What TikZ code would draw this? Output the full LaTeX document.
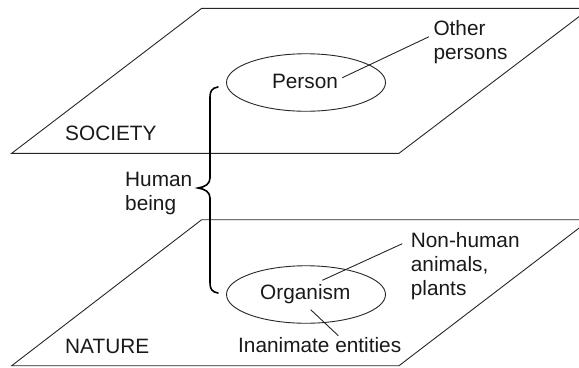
\documentclass[tikz,border=0pt]{standalone}
\usepackage{fontspec}
\setmainfont{Liberation Sans}
\usetikzlibrary{shapes.geometric}
\begin{document}
\begin{tikzpicture}[x=1bp,y=-1bp,
  plane/.style={draw=black!85,line width=0.9bp},
  oval/.style={ellipse,draw=black!85,line width=0.9bp,minimum width=159bp,minimum height=57.5bp,inner sep=0pt},
  lbl/.style={inner sep=0pt,anchor=base west,align=left,font=\fontsize{20.8bp}{24bp}\selectfont,text=black!90},
  conn/.style={draw=black!85,line width=0.9bp},
  bracestyle/.style={draw=black,line width=1.6bp,line cap=round}]
\useasboundingbox (0,0) rectangle (579,367);
\clip (0,0) rectangle (579,367);
% planes
\draw[plane] (11.7,153.3) -- (201.7,8.3) -- (590,8.3) -- (399,153.3) -- cycle;
\draw[plane] (11.7,365.7) -- (201.7,219.7) -- (590,219.7) -- (399,365.7) -- cycle;
% ellipses
\node[oval] (person) at (306,82.5) {};
\node[oval] (organism) at (306,294.5) {};
\node[lbl,anchor=base] (persontext) at (305,88.5) {Person};
\node[lbl,anchor=base] (orgtext) at (305.3,299.7) {Organism};
% labels (base = baseline of last line)
\node[lbl] (society) at (65,140.7) {SOCIETY};
\node[lbl] (nature) at (65,353.7) {NATURE};
\node[lbl] (other) at (433.3,59.3) {Other\\persons};
\node[lbl] (nonhuman) at (410.7,295.5) {Non-human\\animals,\\plants};
\node[lbl] (inanimate) at (238,352.7) {Inanimate entities};
\node[lbl] (human) at (125,210.3) {Human\\being};
% connectors
\coordinate (p1) at (342.3,77.7);
\coordinate (o1) at (429,36.7);
\coordinate (g1) at (322.3,280.3);
\coordinate (n1) at (402.3,243.7);
\coordinate (g2) at (310.7,309.7);
\coordinate (i1) at (338.3,335.7);
\draw[conn] (p1) -- (o1);
\draw[conn] (g1) -- (n1);
\draw[conn] (g2) -- (i1);
% brace
\coordinate (btop) at (218,87);
\coordinate (btip) at (198,188);
\coordinate (bbot) at (218,293);
\draw[bracestyle] (btop) .. controls (212,88) and (210,91) .. (210,97) -- (210,178)
  .. controls (210,184) and (205,187) .. (btip)
  .. controls (205,189) and (210,192) .. (210,198) -- (210,283)
  .. controls (210,289) and (212,292) .. (bbot);
\end{tikzpicture}
\end{document}
